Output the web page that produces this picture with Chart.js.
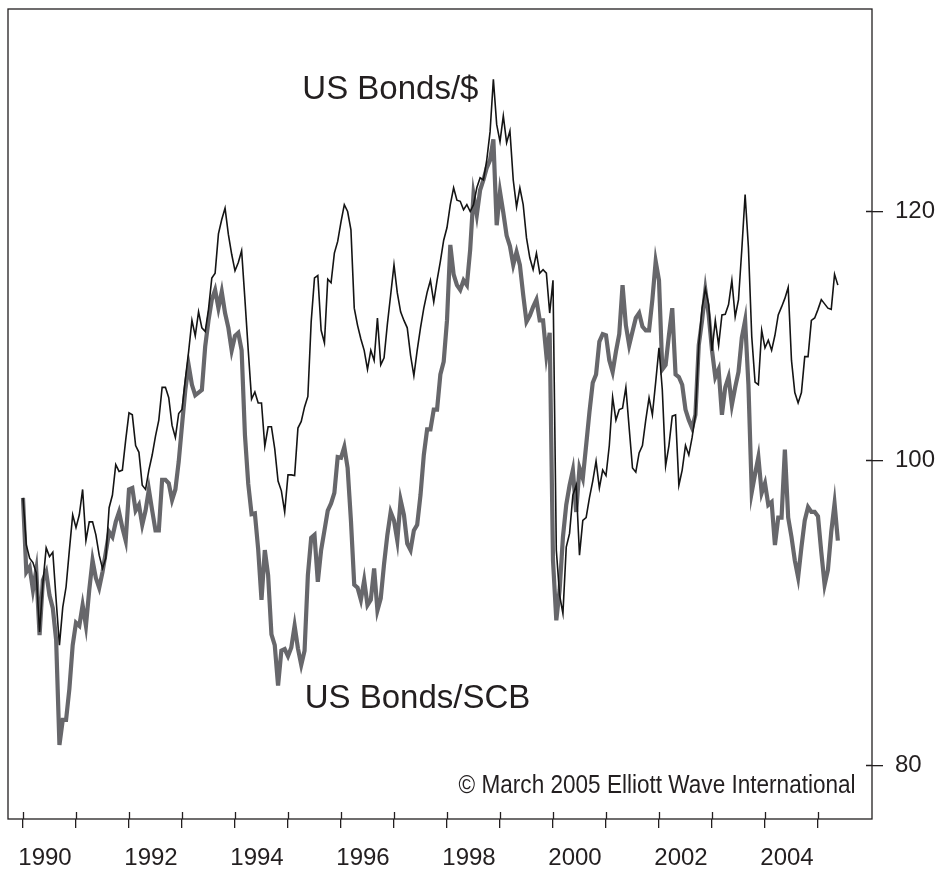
<!DOCTYPE html>
<html>
<head>
<meta charset="utf-8">
<title>US Bonds/$ vs US Bonds/SCB</title>
<script src="https://cdn.jsdelivr.net/npm/chart.js@4.4.1/dist/chart.umd.min.js"></script>
<style>
  html, body { margin: 0; padding: 0; background: #fff; }
  canvas { display: block; }
</style>
</head>
<body>
<canvas id="chart" width="943" height="875"></canvas>
<script>
// one reading every 1/16 of a year, starting January 1990
var startYear = 1990;
var samplesPerYear = 16;

// US Bonds priced in dollars (thin black line)
var bondsUsd = [
  97.3, 94.0, 93.1, 92.8, 92.1, 88.2, 91.4, 93.8, 93.2, 93.5,
  90.3, 87.35, 89.8, 91.15, 93.65, 96.1, 95.2, 96.1, 97.9, 94.3,
  95.6, 95.6, 94.7, 93.3, 92.4, 93.1, 96.6, 97.5, 99.7, 99.2,
  99.3, 101.5, 103.55, 103.4, 101.1, 100.6, 98.2, 97.9, 99.3, 100.4,
  101.8, 103.0, 105.5, 105.5, 104.7, 102.6, 101.7, 103.5, 103.8, 106.1,
  108.3, 110.8, 109.55, 111.5, 110.2, 109.9, 111.7, 114.3, 114.7, 118.05,
  119.3, 120.3, 118.0, 116.3, 114.9, 115.6, 116.6, 112.5, 108.4, 104.6,
  105.15, 104.3, 104.3, 101.05, 102.5, 102.5, 100.85, 98.5, 97.8, 96.3,
  98.95, 98.95, 98.9, 102.4, 102.9, 104.0, 104.8, 110.7, 114.3, 114.5,
  110.0, 109.0, 114.2, 113.9, 116.4, 117.4, 119.1, 120.6, 120.0, 118.4,
  111.8, 110.4, 109.3, 108.4, 106.9, 108.4, 107.6, 111.0, 107.25, 107.8,
  110.5, 112.9, 115.4, 113.05, 111.5, 110.8, 110.2, 108.0, 106.4, 108.4,
  110.2, 111.8, 113.1, 114.1, 112.3, 114.1, 115.7, 117.5, 118.6, 120.6,
  122.1, 121.0, 120.9, 120.15, 120.6, 120.0, 120.6, 122.1, 123.0, 122.8,
  124.6, 127.2, 132.2, 127.9, 126.3, 128.7, 126.2, 127.3, 122.8, 120.4,
  122.1, 120.6, 117.7, 116.0, 115.0, 116.4, 114.7, 115.0, 114.7, 111.4,
  114.1, 93.65, 90.6, 89.4, 93.85, 94.8, 97.5, 98.2, 93.3, 95.7,
  95.9, 97.3, 98.5, 99.95, 98.0, 99.3, 98.9, 101.1, 104.75, 103.0,
  103.8, 103.9, 105.5, 102.4, 99.45, 99.15, 100.55, 101.1, 103.0, 104.7,
  103.4, 105.9, 108.6, 105.3, 99.6, 101.1, 103.3, 103.4, 98.2, 99.3,
  101.1, 100.4, 101.7, 103.4, 108.8, 111.8, 113.4, 112.1, 108.35, 110.8,
  108.8, 111.25, 111.3, 112.1, 114.1, 111.1, 112.5, 116.7, 121.5, 116.85,
  109.5, 105.9, 105.7, 110.0, 108.6, 109.2, 108.4, 109.6, 111.25, 111.9,
  112.6, 113.5, 107.6, 105.1, 104.3, 105.1, 107.9, 107.9, 110.8, 111.0,
  111.7, 112.5, 112.15, 111.8, 111.7, 114.6, 113.7
];

// US Bonds priced in a basket of currencies (thick grey line)
var bondsScb = [
  97.3, 92.15, 92.5, 90.95, 92.3, 88.0, 91.6, 92.15, 90.6, 89.75,
  87.7, 81.2, 82.7, 82.7, 84.6, 87.35, 88.8, 88.6, 89.95, 88.6,
  90.95, 92.95, 91.75, 91.1, 92.15, 93.5, 94.9, 94.55, 95.6, 96.3,
  95.2, 94.3, 97.9, 98.0, 96.4, 96.8, 95.4, 96.4, 97.9, 96.4,
  95.0, 95.0, 98.6, 98.6, 98.35, 97.15, 97.9, 99.9, 102.6, 105.3,
  107.25, 105.7, 104.9, 105.1, 105.3, 108.7, 110.8, 112.5, 113.3, 111.8,
  113.15, 111.4, 110.2, 108.4, 109.55, 109.8, 108.4, 101.9, 98.3, 96.15,
  96.2, 93.7, 90.3, 93.65, 91.95, 88.05, 87.35, 84.8, 87.0, 87.1,
  86.65, 87.2, 88.6, 87.15, 86.1, 87.0, 91.95, 94.5, 94.7, 91.5,
  93.65, 95.0, 96.4, 96.9, 97.65, 100.25, 100.2, 101.0, 99.45, 95.7,
  91.3, 91.1, 90.3, 91.6, 89.95, 90.3, 92.4, 89.6, 90.4, 92.7,
  94.7, 96.3, 95.7, 94.3, 97.15, 96.1, 94.1, 93.65, 95.0, 95.4,
  97.5, 100.4, 102.3, 102.3, 103.8, 103.8, 106.5, 107.5, 110.8, 117.1,
  114.6, 113.7, 113.3, 114.1, 113.7, 116.7, 121.5, 119.7, 121.9, 122.8,
  123.9, 124.6, 126.5, 118.8, 121.75, 119.9, 117.9, 117.0, 115.4, 116.5,
  115.4, 112.9, 110.7, 111.2, 111.9, 112.5, 110.8, 110.8, 108.0, 109.8,
  92.95, 88.95, 90.95, 94.55, 96.8, 98.2, 99.3, 96.3, 99.45, 98.7,
  101.1, 103.6, 105.85, 106.5, 109.1, 109.7, 109.6, 107.6, 106.7, 108.3,
  109.7, 113.7, 110.4, 108.8, 109.9, 111.0, 111.4, 110.3, 110.0, 110.0,
  112.5, 115.7, 114.1, 106.9, 107.25, 109.6, 111.8, 106.5, 106.3, 105.7,
  103.8, 103.0, 102.4, 103.4, 108.8, 110.8, 113.3, 111.25, 108.4, 106.3,
  106.9, 103.4, 105.5, 106.3, 104.15, 105.5, 106.7, 109.4, 110.8, 105.7,
  97.7, 99.0, 100.25, 97.65, 98.35, 96.8, 97.0, 94.0, 95.9, 95.9,
  100.8, 95.9, 94.55, 92.95, 91.8, 93.85, 95.7, 96.65, 96.3, 96.3,
  96.0, 93.5, 91.3, 92.3, 94.9, 96.9, 94.3
];

var yearTicks = [1990, 1991, 1992, 1993, 1994, 1995, 1996, 1997, 1998, 1999, 2000, 2001, 2002, 2003, 2004, 2005];
var valueTicks = [80, 100, 120];

var ink = '#231f20';
var font = '"Liberation Sans", Arial, Helvetica, sans-serif';

var dates = bondsUsd.map(function (v, i) { return startYear + i / samplesPerYear; });

function toPoints(values) {
  return values.map(function (v, i) { return { x: dates[i], y: v }; });
}

// box round the plot, inner half of the tick marks, and the text labels
var framePlugin = {
  id: 'frame',
  afterDraw: function (chart) {
    var ctx = chart.ctx;
    var a = chart.chartArea;
    var xs = chart.scales.x;
    var ys = chart.scales.y;
    ctx.save();
    ctx.strokeStyle = ink;
    ctx.lineWidth = 1.3;
    ctx.strokeRect(a.left, a.top, a.right - a.left, a.bottom - a.top);
    ctx.beginPath();
    yearTicks.forEach(function (t) {
      var px = Math.round(xs.getPixelForValue(t)) + 0.5;
      ctx.moveTo(px, a.bottom - 7);
      ctx.lineTo(px, a.bottom);
    });
    valueTicks.forEach(function (t) {
      var py = Math.round(ys.getPixelForValue(t)) + 0.5;
      ctx.moveTo(a.right - 6, py);
      ctx.lineTo(a.right, py);
    });
    ctx.stroke();

    ctx.fillStyle = ink;
    ctx.textAlign = 'left';
    ctx.textBaseline = 'alphabetic';
    ctx.font = '33px ' + font;
    ctx.fillText('US Bonds/$', xs.getPixelForValue(1995.27), ys.getPixelForValue(130.3));
    ctx.fillText('US Bonds/SCB', xs.getPixelForValue(1995.315), ys.getPixelForValue(83.4));

    // the copyright line is set in a narrow face
    var note = '\u00A9 March 2005 Elliott Wave International';
    ctx.font = '25px ' + font;
    var w = ctx.measureText(note).width;
    ctx.translate(xs.getPixelForValue(2005.71), ys.getPixelForValue(78.37));
    ctx.scale(397 / w, 1);
    ctx.textAlign = 'right';
    ctx.fillText(note, 0, 0);
    ctx.restore();
  }
};

var ctx = document.getElementById('chart').getContext('2d');
var chart = new Chart(ctx, {
  type: 'line',
  data: {
    datasets: [{
      label: 'US Bonds/$',
      data: toPoints(bondsUsd),
      borderColor: '#141414',
      borderWidth: 1.6,
      pointRadius: 0,
      fill: false,
      tension: 0,
      order: 1
    }, {
      label: 'US Bonds/SCB',
      data: toPoints(bondsScb),
      borderColor: '#67676b',
      borderWidth: 4.2,
      pointRadius: 0,
      fill: false,
      tension: 0,
      order: 2
    }]
  },
  options: {
    responsive: false,
    animation: false,
    devicePixelRatio: 1,
    layout: { padding: { left: 8, top: 9, right: 0, bottom: 0 } },
    plugins: {
      legend: { display: false },
      tooltip: { enabled: false }
    },
    scales: {
      x: {
        type: 'linear',
        position: 'bottom',
        min: 1989.717,
        max: 2006.019,
        afterBuildTicks: function (axis) {
          axis.ticks = yearTicks.map(function (v) { return { value: v }; });
        },
        afterFit: function (scale) {
          scale.height = 56;
          scale.paddingLeft = 0;
          scale.paddingRight = 0;
        },
        border: { display: false },
        grid: {
          drawOnChartArea: false,
          drawTicks: true,
          tickLength: 9,
          color: ink,
          lineWidth: 1.3
        },
        ticks: {
          autoSkip: false,
          maxRotation: 0,
          padding: 16,
          labelOffset: 22,
          color: ink,
          font: { family: font, size: 24 },
          callback: function (value) { return value % 2 === 0 ? String(value) : ''; }
        }
      },
      y: {
        type: 'logarithmic',
        position: 'right',
        min: 76.91,
        max: 139.18,
        afterBuildTicks: function (axis) {
          axis.ticks = valueTicks.map(function (v) { return { value: v }; });
        },
        afterFit: function (scale) {
          scale.width = 71;
          scale.paddingTop = 0;
          scale.paddingBottom = 0;
        },
        border: { display: false },
        grid: {
          drawOnChartArea: false,
          drawTicks: true,
          tickLength: 11,
          color: ink,
          lineWidth: 1.3
        },
        ticks: {
          padding: 12,
          color: ink,
          font: { family: font, size: 24 },
          callback: function (value) { return String(value); }
        }
      }
    }
  },
  plugins: [framePlugin]
});
</script>
</body>
</html>
